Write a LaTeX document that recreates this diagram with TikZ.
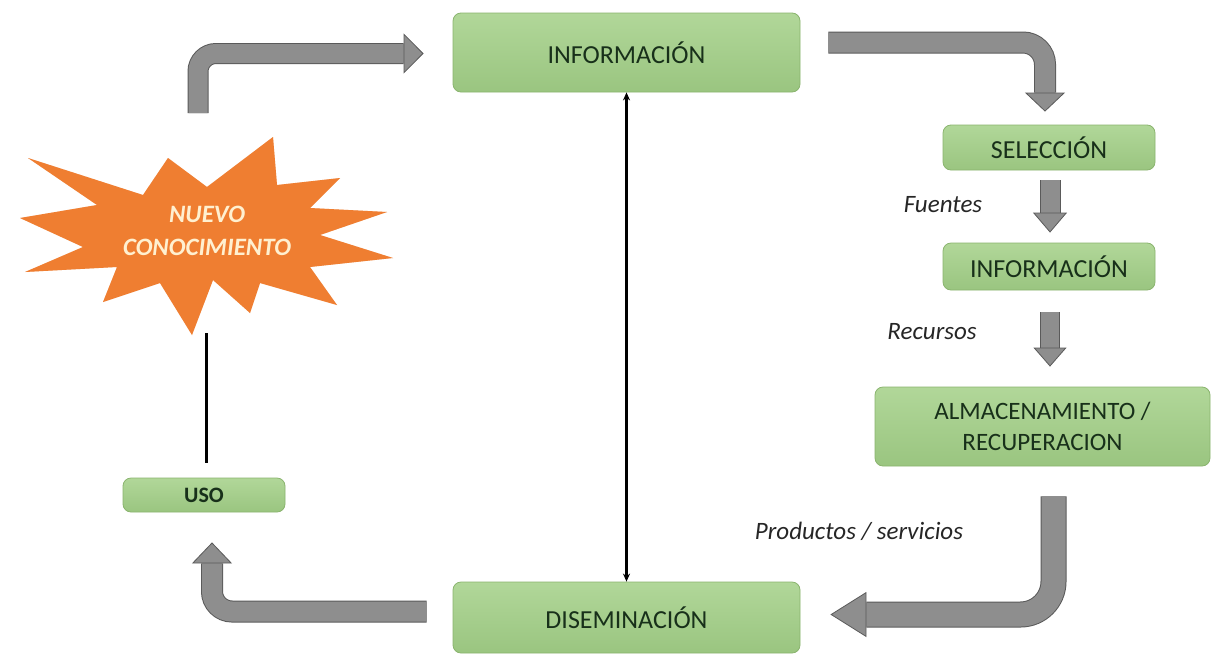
\documentclass[tikz,border=0pt]{standalone}
\usepackage{fontspec}
\setmainfont{Carlito}
\usetikzlibrary{arrows.meta,calc}
\definecolor{boxtop}{HTML}{B1D799}
\definecolor{boxbot}{HTML}{9AC580}
\definecolor{boxedge}{HTML}{8AB46E}
\definecolor{boxtext}{HTML}{18301A}
\definecolor{argray}{HTML}{8E8E8E}
\definecolor{aredge}{HTML}{5A5A5A}
\definecolor{starfill}{HTML}{EF7E31}
\definecolor{startext}{HTML}{FFF0D0}
\begin{document}
\begin{tikzpicture}[x=1pt,y=-1pt,
  gbox/.style={rectangle, rounded corners=8pt, top color=boxtop, bottom color=boxbot,
    draw=boxedge, line width=0.8pt, text=boxtext, font=\fontsize{26}{31}\selectfont,
    inner sep=0pt, align=center},
  lbl/.style={font=\itshape\fontsize{25}{30}\selectfont, text=black!85, inner sep=0pt},
  blockarr/.style n args={4}{line width=#1, draw=argray,
    -{Triangle[length=#3, width=#4, fill=argray, color=aredge, line width=0.8pt]},
    preaction={draw=aredge, line width=#2, shorten >=#3, -}}]
\fill[white] (0,0) rectangle (1212,656);
\useasboundingbox (0,0) rectangle (1212,656);

% boxes
\node[gbox, minimum width=347pt, minimum height=79pt] (info) at (626.5,52.5) {INFORMACIÓN};
\node[gbox, minimum width=212pt, minimum height=45pt] (sel) at (1049,147.5) {SELECCIÓN};
\node[gbox, minimum width=212pt, minimum height=47pt] (inf2) at (1049,266.5) {INFORMACIÓN};
\node[gbox, minimum width=335pt, minimum height=79pt, font=\fontsize{25}{31}\selectfont] (alm) at (1042.5,426.5) {ALMACENAMIENTO /\\RECUPERACION};
\node[gbox, minimum width=162pt, minimum height=34pt, font=\bfseries\fontsize{22}{26}\selectfont] (uso) at (204,495) {USO};
\node[gbox, minimum width=347pt, minimum height=71pt] (dis) at (626.5,617.5) {DISEMINACIÓN};

% starburst
\fill[starfill!35] (28,158) -- (143,195) -- (168,158) -- (207,187) -- (273,137) -- (277,185)
  -- (340,178) -- (310,208) -- (387,212) -- (320,235) -- (393,258) -- (310,267)
  -- (337,305) -- (260,283) -- (250,313) -- (213,280) -- (192,335) -- (160,283)
  -- (103,302) -- (117,267) -- (25,272) -- (83,247) -- (20,218) -- (97,205) -- cycle;
\fill[starfill] (28,158) -- (143,195) -- (168,158) -- (207,187) -- (273,137) -- (277,185)
  -- (340,178) -- (310,208) -- (387,212) -- (320,235) -- (393,258) -- (310,267)
  -- (337,305) -- (260,283) -- (250,313) -- (213,280) -- (192,335) -- (160,283)
  -- (103,302) -- (117,267) -- (25,272) -- (83,247) -- (20,218) -- (97,205) -- cycle;
\node[font=\bfseries\itshape\fontsize{25}{33}\selectfont, text=startext, align=center, inner sep=0pt]
  (star) at (207,231) {NUEVO\\CONOCIMIENTO};

% labels
\node[lbl] (fuentes) at (943,205) {Fuentes};
\node[lbl] (recursos) at (932,332) {Recursos};
\node[lbl] (productos) at (859,531) {Productos / servicios};

% connectors
\coordinate (tls) at (198,113);
\draw[blockarr={19pt}{21pt}{20pt}{40pt}, rounded corners=18pt] (tls) |- ($(info.west)+(-29,1)$);
\draw[blockarr={20pt}{22pt}{19pt}{40pt}, rounded corners=22pt] ($(info.east)+(28,-10)$) -| ($(sel.north)+(-4,-13)$);
\draw[blockarr={19pt}{21pt}{20pt}{34pt}] ($(sel.south)+(1,10)$) -- ($(inf2.north)+(1,-10)$);
\draw[blockarr={18pt}{20pt}{19pt}{33pt}] ($(inf2.south)+(1,22)$) -- ($(inf2.south |- alm.north)+(1,-20)$);
\draw[blockarr={24pt}{26pt}{36pt}{45pt}, rounded corners=33pt] ($(alm.south)+(11,30)$) |- ($(dis.east)+(30,-3)$);
\draw[blockarr={20pt}{22pt}{21pt}{40pt}, rounded corners=20pt] ($(dis.west)+(-26,-6)$) -| ($(uso.south)+(8,30)$);

\draw[line width=2.4pt, {Stealth[length=8pt,width=7pt]}-{Stealth[length=8pt,width=7pt]}] (info.south) -- (dis.north);

\coordinate (starbot) at (206,333);
\draw[line width=3pt] (starbot) -- ($(uso.north)+(2,-15)$);
\end{tikzpicture}
\end{document}
